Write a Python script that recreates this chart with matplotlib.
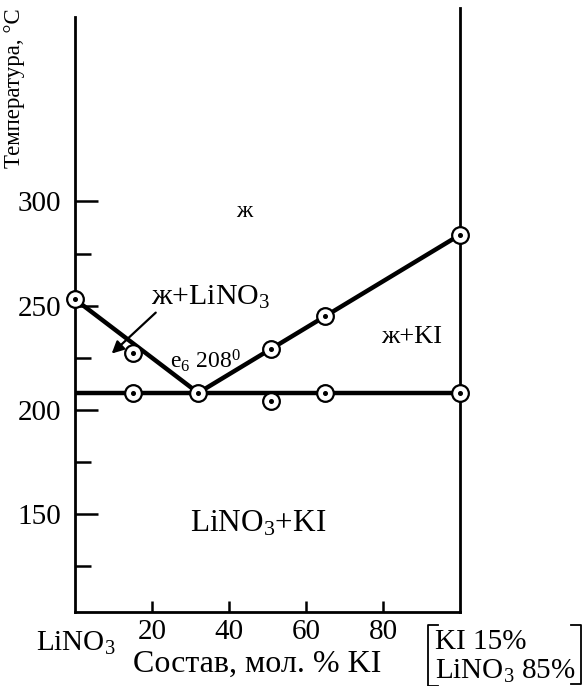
import matplotlib
matplotlib.use("Agg")
import matplotlib.pyplot as plt
from matplotlib.lines import Line2D

plt.rcParams['font.family'] = ['Liberation Serif', 'DejaVu Serif']
plt.rcParams['mathtext.fontset'] = 'custom'
plt.rcParams['mathtext.rm'] = 'Liberation Serif'
plt.rcParams['mathtext.it'] = 'Liberation Serif:italic'
plt.rcParams['mathtext.default'] = 'regular'

# ---- data ----
liq_lino3_x = [0, 32]
liq_lino3_T = [253, 208]
liq_ki_x = [32, 100]
liq_ki_T = [208, 284]
eut_x = [0, 100]
eut_T = [208, 208]
pts_x = [0, 15, 15, 32, 51, 51, 65, 65, 100, 100]
pts_T = [253, 227, 208, 208, 229, 204, 245, 208, 284, 208]
y_major = [150, 200, 250, 300]
y_minor = [125, 175, 225, 275]
x_major = [20, 40, 60, 80]

fig = plt.figure(figsize=(5.84, 6.86), dpi=100)
ax = fig.add_axes([75/584, 1-612/686, (460-75)/584, (612-8)/686])
ax.set_xlim(0, 100)
ax.set_ylim(102.7, 393)

ax.spines['top'].set_visible(False)
for s in ['left', 'bottom', 'right']:
    ax.spines[s].set_linewidth(2.0)
ax.spines['left'].set_bounds(102.7, 388.8)

ax.set_yticks(y_major)
ax.set_yticks(y_minor, minor=True)
ax.set_yticklabels([str(v) for v in y_major], fontsize=21)
ax.set_xticks(x_major)
ax.set_xticklabels([str(v) for v in x_major], fontsize=21)
ax.tick_params(axis='y', which='major', direction='in', length=16.5, width=1.8, pad=10)
ax.tick_params(axis='y', which='minor', direction='in', length=11.5, width=1.8)
ax.tick_params(axis='x', which='major', direction='in', length=8, width=1.8, pad=5)

# lines
ax.plot(liq_lino3_x, liq_lino3_T, color='black', lw=3.2, solid_capstyle='butt', zorder=3)
ax.plot(liq_ki_x, liq_ki_T, color='black', lw=3.2, solid_capstyle='butt', zorder=3)
ax.plot(eut_x, eut_T, color='black', lw=3.2, solid_capstyle='butt', zorder=3, clip_on=False)

# markers
ax.plot(pts_x, pts_T, linestyle='none', marker='o', ms=12, mfc='white', mec='black',
        mew=1.6, zorder=5, clip_on=False)
ax.plot(pts_x, pts_T, linestyle='none', marker='o', ms=2.6, mfc='black', mec='black',
        zorder=6, clip_on=False)

# region labels
ax.text(43.9, 295, 'ж', fontsize=17, ha='center', va='center')
ax.text(35.2, 254, 'ж+LiNO$_3$', fontsize=21.5, ha='center', va='center')
ax.annotate('', xy=(9, 226), xytext=(21.5, 247.5),
            arrowprops=dict(arrowstyle='-|>', lw=1.6, color='black', mutation_scale=18))
ax.text(24.6, 223.5, 'e$_6$ 208$^0$', fontsize=17, ha='left', va='center')
ax.text(87.5, 235, 'ж+KI', fontsize=19, ha='center', va='center')
ax.text(47.6, 145, 'LiNO$_3$+KI', fontsize=22.5, ha='center', va='center')

# axis labels
fig.text(15/584, 1-88/686, 'Температура, °C', rotation=90, fontsize=16.5,
         ha='center', va='center')
fig.text(76/584, 1-643/686, 'LiNO$_3$', fontsize=21, ha='center', va='center')
fig.text(257/584, 1-664/686, 'Состав, мол. % KI', fontsize=23, ha='center', va='center')

# bracket note
fig.text(435/584, 1-642/686, 'KI 15%', fontsize=21, ha='left', va='center')
fig.text(435/584, 1-671/686, 'LiNO$_3$ 85%', fontsize=21, ha='left', va='center')
W, H = 584, 686
def fl(xs, ys):
    fig.add_artist(Line2D([x/W for x in xs], [1-y/H for y in ys], color='black',
                          lw=1.3, transform=fig.transFigure))
fl([438, 428, 428, 438], [625, 625, 686, 686])
fl([571, 581, 581, 571], [625, 625, 684, 684])

fig.savefig('out.png', dpi=100)
